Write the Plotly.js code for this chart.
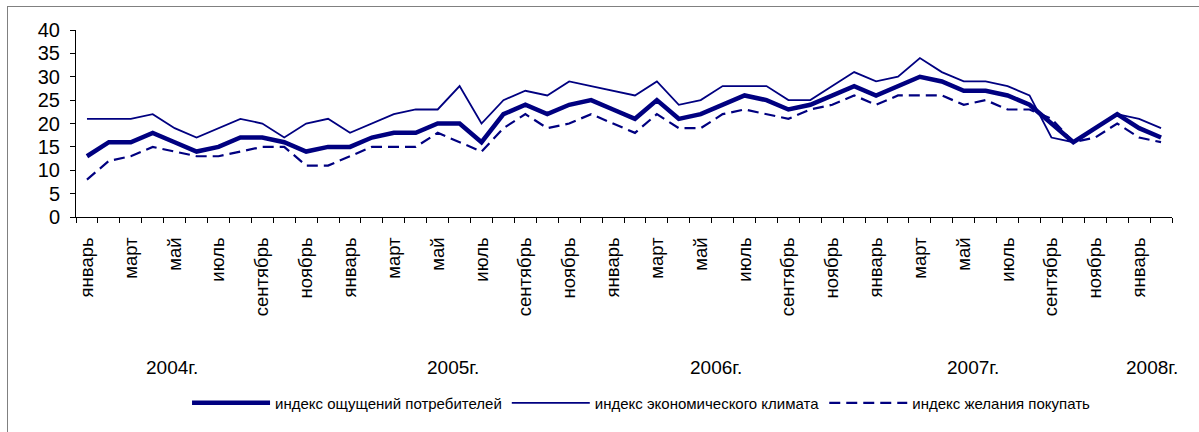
<!DOCTYPE html>
<html>
<head>
<meta charset="utf-8">
<script src="https://cdn.plot.ly/plotly-3.0.1.min.js"></script>
<style>
html,body{margin:0;padding:0;background:#fff;overflow:hidden;}
#wrap{position:relative;width:1199px;height:432px;}
#frame{position:absolute;left:7px;top:6px;width:1400px;height:600px;border-left:1px solid #808080;border-top:1px solid #808080;pointer-events:none;}
</style>
</head>
<body>
<div id="wrap"><div id="chart"></div><div id="frame"></div></div>
<script>
// ---- data ----
const monthNames = ["январь","февраль","март","апрель","май","июнь","июль","август","сентябрь","октябрь","ноябрь","декабрь"];
const years = ["2004г.","2005г.","2006г.","2007г.","2008г."];
const seriesNames = ["индекс ощущений потребителей","индекс экономического климата","индекс желания покупать"];

const consumerSentiment = [13,16,16,18,16,14,15,17,17,16,14,15,
                           15,17,18,18,20,20,16,22,24,22,24,25,
                           23,21,25,21,22,24,26,25,23,24,26,28,
                           26,28,30,29,27,27,26,24,20,16,19,22,
                           19,17];
const economicClimate   = [21,21,21,22,19,17,19,21,20,17,20,21,
                           18,20,22,23,23,28,20,25,27,26,29,28,
                           27,26,29,24,25,28,28,28,25,25,28,31,
                           29,30,34,31,29,29,28,26,17,16,19,22,
                           21,19];
const willingnessToBuy  = [8,12,13,15,14,13,13,14,15,15,11,11,
                           13,15,15,15,18,16,14,19,22,19,20,22,
                           20,18,22,19,19,22,23,22,21,23,24,26,
                           24,26,26,26,24,25,23,23,21,16,17,20,
                           17,16];

// ---- derived ----
const n = consumerSentiment.length;
const idx = consumerSentiment.map((_, i) => i);
const monthLabels = idx.map(i => monthNames[i % 12]);
const labelIdx = idx.filter(i => i % 2 === 0);
const labelText = labelIdx.map(i => monthLabels[i]);

// layout-only positions of the year captions (in category units)
const yearPos = [3.9, 16.7, 28.7, 40.4, 48.6];

const navy = "#000080";
const fontFam = "Liberation Sans, Arial, sans-serif";

const traces = [
  {x: idx, y: consumerSentiment, name: seriesNames[0], type: "scatter", mode: "lines",
   line: {color: navy, width: 4.5}, xaxis: "x", yaxis: "y"},
  {x: idx, y: economicClimate, name: seriesNames[1], type: "scatter", mode: "lines",
   line: {color: navy, width: 1.8}, xaxis: "x", yaxis: "y"},
  {x: idx, y: willingnessToBuy, name: seriesNames[2], type: "scatter", mode: "lines",
   line: {color: navy, width: 2.2, dash: "11px,6px"}, xaxis: "x", yaxis: "y"}
];

const layout = {
  width: 1199, height: 432,
  margin: {l: 76, r: 27, t: 30, b: 215},
  paper_bgcolor: "#fff", plot_bgcolor: "#fff",
  font: {family: fontFam, color: "#000"},
  showlegend: true,
  legend: {orientation: "h", x: 0.516, xanchor: "center", y: -0.995, yanchor: "middle",
           font: {family: fontFam, size: 15, color: "#000"}, itemwidth: 78, tracegroupgap: 0},
  xaxis: {
    range: [-0.5, n - 0.5], tickmode: "array", tickvals: labelIdx, ticktext: labelText,
    ticks: "", tickangle: -90, tickfont: {size: 18.5, family: fontFam},
    ticklabelstandoff: 12,
    showline: true, linecolor: "#000", linewidth: 1, showgrid: false, zeroline: false,
    fixedrange: true
  },
  xaxis2: {
    overlaying: "x", anchor: "y", side: "bottom",
    range: [-0.5, n - 0.5], tickmode: "linear", tick0: -0.5, dtick: 1,
    ticks: "outside", ticklen: 5, tickcolor: "#000", tickwidth: 1,
    showticklabels: false, showline: false, showgrid: false, zeroline: false, fixedrange: true
  },
  yaxis: {
    range: [0, 40], tickmode: "linear", tick0: 0, dtick: 5,
    ticks: "outside", ticklen: 5, tickcolor: "#000", tickwidth: 1,
    tickfont: {size: 20, family: fontFam}, ticklabelstandoff: 6,
    showline: true, linecolor: "#000", linewidth: 1, showgrid: false, zeroline: false,
    fixedrange: true
  },
  annotations: years.map((t, k) => ({
    text: t, x: yearPos[k], xref: "x", y: -0.807, yref: "paper",
    showarrow: false, xanchor: "center", yanchor: "middle",
    font: {size: 19, family: fontFam, color: "#000"}
  }))
};

// invisible helper trace so that the boundary-tick axis is drawn
traces.push({x: [idx[0]], y: [consumerSentiment[0]], xaxis: "x2", yaxis: "y", type: "scatter",
  mode: "markers", marker: {opacity: 0}, showlegend: false, hoverinfo: "skip"});

Plotly.newPlot("chart", traces, layout, {displayModeBar: false, staticPlot: true});
</script>
</body>
</html>
